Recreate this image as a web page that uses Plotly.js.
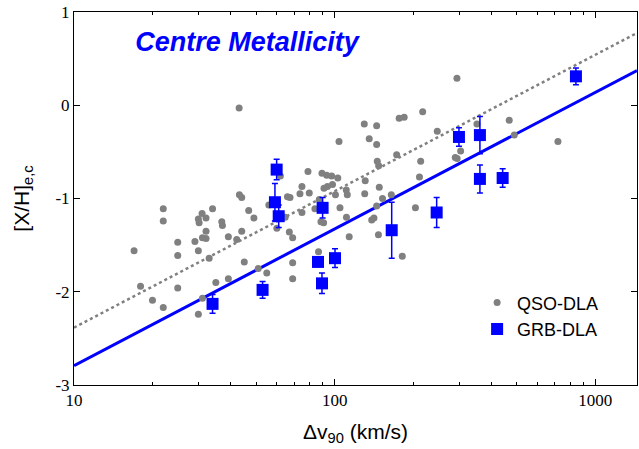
<!DOCTYPE html>
<html>
<head>
<meta charset="utf-8">
<script src="https://cdn.plot.ly/plotly-3.0.1.min.js"></script>
<style>html,body{margin:0;padding:0;background:#fff;}#chart{width:639px;height:449px;}</style>
</head>
<body>
<div id="chart"></div>
<script>
// QSO-DLA sample (velocity width, centre metallicity)
const qsoX = [17.0, 18.0, 20.0, 22.0, 22.0, 22.0, 25.0, 25.0, 25.0, 29.1, 30.0, 30.0, 30.0, 30.2, 31.0, 32.1, 31.1, 32.1, 32.1, 31.1,
  33.0, 34.0, 35.0, 36.9, 37.1, 39.1, 39.1, 42.1, 43.0, 43.1, 44.0, 44.0, 45.0, 46.8, 49.0, 50.9, 54.9, 55.9, 60.0, 61.9,
  65.9, 67.4, 64.6, 67.0, 69.0, 69.0, 69.0, 73.6, 74.9, 74.9, 79.0, 79.9, 84.0, 87.3, 86.7, 88.6, 90.7, 89.4, 93.2, 97.4,
  102.8, 91.0, 93.8, 98.1, 100.7, 103.9, 104.8, 110.8, 111.8, 111.0, 113.7, 129.9, 144.9, 135.7, 144.9, 145.7, 147.5, 131.0, 130.4, 138.7,
  141.5, 144.9, 147.2, 148.3, 152.6, 164.9, 172.9, 176.8, 184.8, 181.7, 204.1, 211.5, 213.8, 217.6, 247.5, 290.1, 295.0, 304.3, 294.5, 351.4,
  467.4, 488.6, 718.6];
const qsoY = [-1.56, -1.94, -2.09, -2.17, -1.11, -1.24, -1.47, -1.61, -1.96, -1.46, -1.56, -2.24, -1.22, -1.26, -1.16, -1.21, -1.42, -1.43, -1.35, -2.07,
  -1.64, -1.11, -1.90, -1.25, -1.29, -1.41, -1.86, -1.44, -0.03, -0.96, -0.99, -1.35, -1.68, -1.13, -1.21, -1.75, -1.80, -1.07, -1.32, -0.76,
  -0.98, -0.99, -1.20, -1.36, -1.42, -1.69, -1.86, -0.95, -0.87, -1.15, -0.71, -0.94, -1.11, -1.01, -1.57, -1.25, -1.26, -0.73, -0.75, -0.76,
  -0.78, -0.89, -0.87, -0.85, -0.96, -0.39, -1.10, -0.91, -0.96, -1.20, -1.41, -0.20, -0.22, -0.36, -0.42, -0.60, -0.65, -0.81, -0.95, -1.23,
  -1.21, -1.08, -1.39, -0.88, -1.00, -0.96, -0.53, -0.14, -0.13, -1.62, -1.10, -0.77, -0.60, -0.07, -0.28, -0.56, -0.57, -0.49, 0.29, -0.20,
  -0.16, -0.32, -0.39];

// GRB-DLA sample
const grbX = [34.0, 52.9, 59.9, 59.0, 61.0, 89.9, 86.3, 100.3, 89.4, 165.5, 246.2, 299.8, 360.8, 360.8, 441.0, 842.5];
const grbY = [-2.13, -1.98, -0.69, -1.04, -1.19, -1.10, -1.68, -1.64, -1.91, -1.34, -1.15, -0.34, -0.32, -0.79, -0.78, 0.31];
const grbErr = [0.10, 0.09, 0.11, 0.20, 0.12, 0.11, 0.05, 0.10, 0.11, 0.30, 0.16, 0.10, 0.20, 0.15, 0.10, 0.09];

// Linear fits (end points)
const fitX = [10, 1445];
const qsoFitY = [-2.385, 0.775];
const grbFitY = [-2.792, 0.373];

// Axis ticks
const xTickVals = [10, 100, 1000];
const xTickText = ['10', '100', '1000'];
const xMinorVals = [20, 30, 40, 50, 60, 70, 80, 90, 200, 300, 400, 500, 600, 700, 800, 900];
const yTickVals = [-3, -2, -1, 0, 1];
const yTickText = ['-3', '-2', '-1', '0', '1'];

const traces = [
  {x: fitX, y: qsoFitY, mode: 'lines', type: 'scatter', showlegend: false, hoverinfo: 'skip',
   line: {color: '#808080', width: 2.5, dash: 'dot'}},
  {x: fitX, y: grbFitY, mode: 'lines', type: 'scatter', showlegend: false, hoverinfo: 'skip',
   line: {color: '#0000ff', width: 3}},
  {x: qsoX, y: qsoY, mode: 'markers', type: 'scatter', name: 'QSO-DLA',
   marker: {color: '#808080', size: 7, symbol: 'circle'}},
  {x: grbX, y: grbY, mode: 'markers', type: 'scatter', name: 'GRB-DLA',
   marker: {color: '#0000ff', size: 12, symbol: 'square'},
   error_y: {type: 'data', array: grbErr, visible: true, color: '#0000ff', thickness: 1.5, width: 3}}
];

const layout = {
  width: 639, height: 449,
  margin: {l: 74, r: 2, t: 12, b: 64},
  paper_bgcolor: '#fff', plot_bgcolor: '#fff',
  showlegend: true,
  title: {text: '<b><i>Centre Metallicity</i></b>', x: 247/639, xanchor: 'center', xref: 'container',
          y: 1 - 42/449, yanchor: 'middle', yref: 'container',
          font: {family: 'Liberation Sans, Arial, sans-serif', size: 27, color: '#0000ff'}},
  xaxis: {type: 'log', range: [1, Math.log10(1445)], showgrid: false, zeroline: false,
          showline: true, linecolor: '#000', linewidth: 1, mirror: 'ticks',
          ticks: 'inside', ticklen: 6, tickcolor: '#000', tickwidth: 1,
          tickmode: 'array', tickvals: xTickVals, ticktext: xTickText,
          minor: {ticks: 'inside', ticklen: 3, tickcolor: '#000', tickwidth: 1, tickmode: 'array', tickvals: xMinorVals},
          tickfont: {family: 'Liberation Serif, Times New Roman, serif', size: 17, color: '#000'},
          title: {text: 'Δv<sub>90</sub> (km/s)', standoff: 14,
                  font: {family: 'Liberation Sans, Arial, sans-serif', size: 21, color: '#000'}}},
  yaxis: {range: [-3, 1], showgrid: false, zeroline: false,
          showline: true, linecolor: '#000', linewidth: 1, mirror: 'ticks',
          ticks: 'inside', ticklen: 6, tickcolor: '#000', tickwidth: 1,
          tickmode: 'array', tickvals: yTickVals, ticktext: yTickText,
          tickfont: {family: 'Liberation Serif, Times New Roman, serif', size: 17, color: '#000'},
          title: {text: '[X/H]<sub>e,c</sub>', standoff: 20,
                  font: {family: 'Liberation Sans, Arial, sans-serif', size: 21, color: '#000'}}},
  legend: {x: 0.716, y: 0.27, xanchor: 'left', yanchor: 'top', bgcolor: 'rgba(0,0,0,0)',
           font: {family: 'Liberation Sans, Arial, sans-serif', size: 18, color: '#000'},
           tracegroupgap: 0, itemwidth: 30}
};

Plotly.newPlot('chart', traces, layout, {staticPlot: true, displayModeBar: false});
</script>
</body>
</html>
